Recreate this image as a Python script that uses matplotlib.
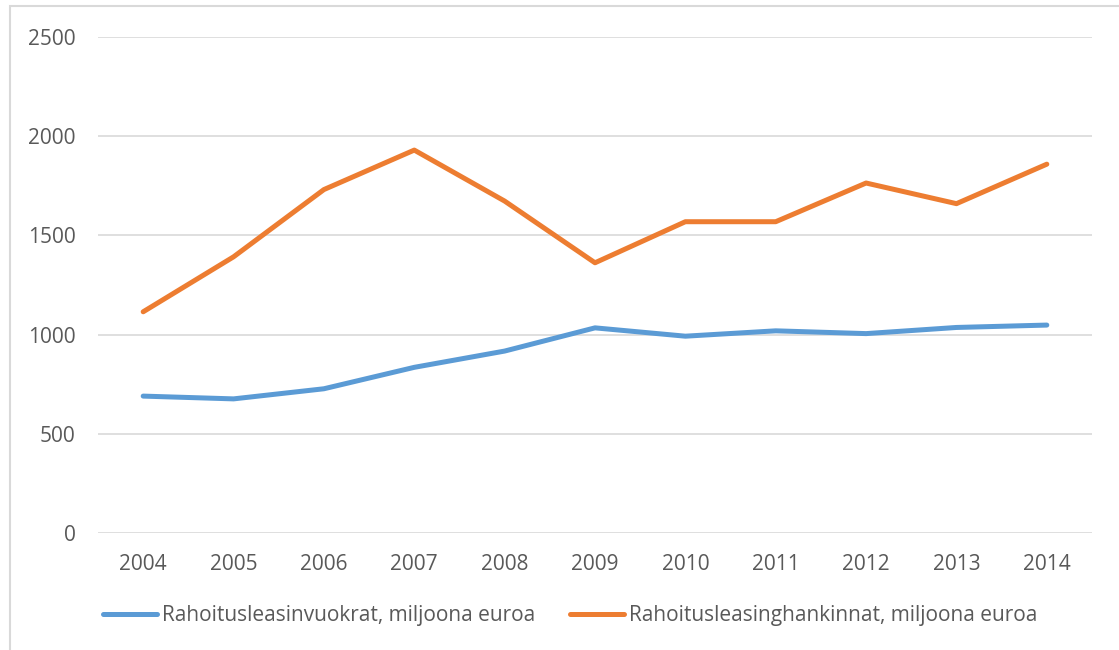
import matplotlib.pyplot as plt
from matplotlib.patches import Rectangle

years = ['2004', '2005', '2006', '2007', '2008', '2009', '2010', '2011', '2012', '2013', '2014']
vuokrat = [690, 676, 727, 835, 917, 1034, 992, 1019, 1005, 1036, 1048]
hankinnat = [1115, 1392, 1731, 1930, 1673, 1362, 1569, 1569, 1764, 1660, 1859]
yticks = [0, 500, 1000, 1500, 2000, 2500]

plt.rcParams['font.family'] = ['Open Sans', 'DejaVu Sans']
txt = '#595959'
grid = '#d9d9d9'

fig = plt.figure(figsize=(11.19, 6.5), dpi=100)
W, H = 1119, 650
ax = fig.add_axes([98 / W, 1 - 533 / H, (1092 - 98) / W, (533 - 37) / H])

# chart area border (cropped at right and bottom in the original)
fig.patches.append(Rectangle((10 / W, -0.1), 1.2, 1 - 6 / H + 0.1, transform=fig.transFigure,
                             fill=False, edgecolor=grid, linewidth=1.5))

x = range(len(years))
ax.plot(x, vuokrat, color='#5b9bd5', linewidth=3.6, solid_capstyle='round',
        label='Rahoitusleasinvuokrat, miljoona euroa')
ax.plot(x, hankinnat, color='#ed7d31', linewidth=3.6, solid_capstyle='round',
        label='Rahoitusleasinghankinnat, miljoona euroa')

ax.set_xlim(-0.5, len(years) - 0.5)
ax.set_ylim(0, 2500)
ax.set_yticks(yticks)
ax.set_xticks(list(x))
ax.set_xticklabels(years)
ax.yaxis.grid(True, color=grid, linewidth=1.2)
ax.set_axisbelow(True)
for s in ax.spines.values():
    s.set_visible(False)
ax.tick_params(axis='both', length=0, labelsize=15, labelcolor=txt)
ax.tick_params(axis='y', pad=16)
ax.tick_params(axis='x', pad=15)

leg = ax.legend(loc='center', bbox_to_anchor=(0.475, -0.166), ncol=2, frameon=False,
                fontsize=15, handlelength=2.6, handletextpad=0.2, columnspacing=1.7)
for t in leg.get_texts():
    t.set_color(txt)

fig.savefig('out.png', dpi=100)
